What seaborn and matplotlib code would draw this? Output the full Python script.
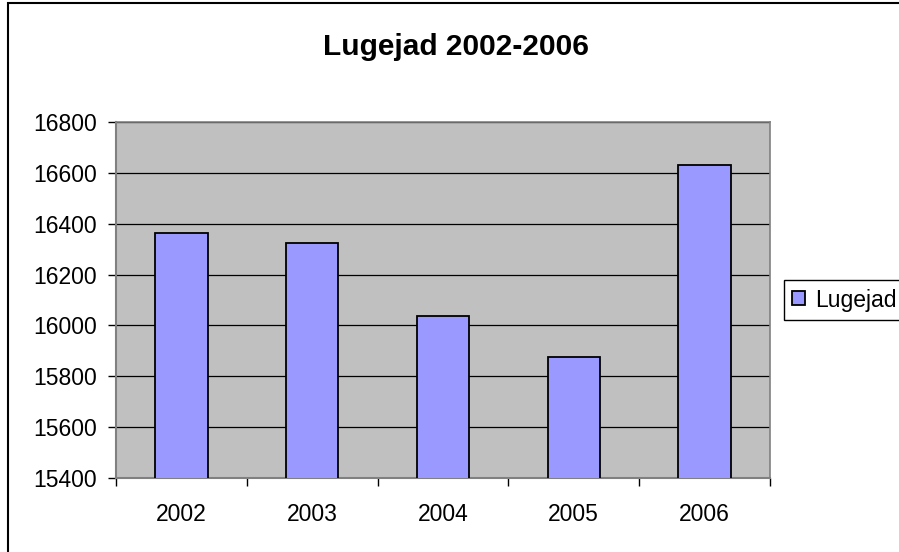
import matplotlib
matplotlib.use("Agg")
import matplotlib.pyplot as plt
from matplotlib.patches import Rectangle
import pandas as pd
import seaborn as sns

# ─── Data ────────────────────────────────────────────────────────────────────
years = ["2002", "2003", "2004", "2005", "2006"]
readers = [16363, 16326, 16037, 15874, 16632]
series_name = "Lugejad"
title = "Lugejad 2002-2006"
y_ticks = [15400, 15600, 15800, 16000, 16200, 16400, 16600, 16800]

df = pd.DataFrame({"year": years, "value": readers, "series": series_name})

# ─── Style ───────────────────────────────────────────────────────────────────
sns.set_style("white")
plt.rcParams["font.family"] = ["Liberation Sans", "DejaVu Sans"]
for key in ("text.color", "xtick.color", "ytick.color", "axes.labelcolor"):
    plt.rcParams[key] = "black"

fig = plt.figure(figsize=(8.99, 5.52), dpi=100)
ax = fig.add_axes([116 / 899, 1 - 478 / 552, (770 - 116) / 899, (478 - 122) / 552])
ax.set_facecolor("#C0C0C0")

sns.barplot(
    data=df, x="year", y="value", hue="series",
    palette=["#9999FF"], saturation=1, edgecolor="black", linewidth=1.3,
    width=0.4, dodge=False, ax=ax, zorder=3,
)

ax.set_ylim(y_ticks[0], y_ticks[-1])
ax.set_yticks(y_ticks)
ax.yaxis.grid(True, color="black", linewidth=0.9, zorder=0)
ax.set_axisbelow(True)
ax.set_xlim(-0.5, len(years) - 0.5)
ax.set_xlabel("")
ax.set_ylabel("")

# tick marks between categories, labels at centers
ax.set_xticks([i - 0.5 for i in range(len(years) + 1)], minor=True)
ax.tick_params(axis="x", which="major", length=0, labelsize=16.5, pad=18)
ax.tick_params(axis="x", which="minor", length=6, width=1, color="black",
               direction="out", bottom=True)
ax.tick_params(axis="y", which="major", length=6, width=1, color="black",
               direction="out", left=True, labelsize=16.5, pad=8)

for side in ("top", "right"):
    ax.spines[side].set_visible(True)
    ax.spines[side].set_color("#808080")
    ax.spines[side].set_linewidth(1.2)
for side in ("left", "bottom"):
    ax.spines[side].set_color("#808080")
    ax.spines[side].set_linewidth(1.5)

# ─── Legend ──────────────────────────────────────────────────────────────────
handles, labels = ax.get_legend_handles_labels()
ax.legend(
    handles, labels, loc="center left",
    bbox_to_anchor=(784 / 899, 1 - 300 / 552), bbox_transform=fig.transFigure,
    frameon=True, fancybox=False, edgecolor="black", framealpha=1,
    fontsize=16.5, handlelength=0.57, handleheight=0.57, handletextpad=0.43,
    borderpad=0.35, borderaxespad=0,
)
ax.get_legend().get_frame().set_linewidth(1.0)

# ─── Title and outer border ──────────────────────────────────────────────────
fig.text(456 / 899, 1 - 55 / 552, title, ha="center", va="baseline",
         fontsize=21.5, fontweight="bold")
fig.patches.append(Rectangle((8 / 899, -0.1), 1.2, 1.1 - 3 / 552,
                             transform=fig.transFigure, fill=False,
                             edgecolor="black", linewidth=1.5))

fig.savefig("out.png", dpi=100)
